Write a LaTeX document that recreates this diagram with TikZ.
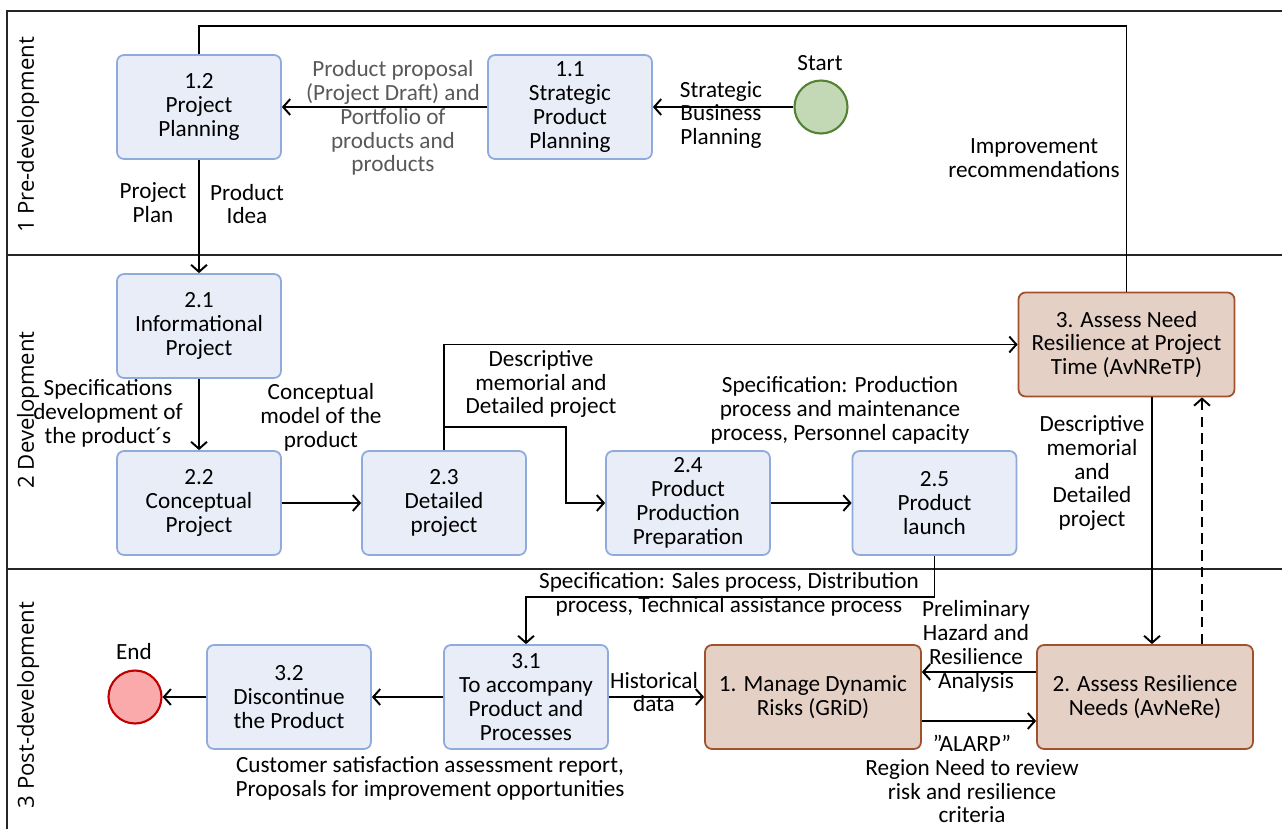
\documentclass[tikz,border=0pt]{standalone}
\usepackage{fontspec}
\setmainfont{Carlito}
\newfontfamily\lanefont{Open Sans}
\usepackage{xcolor}
\definecolor{procfill}{RGB}{233,237,248}
\definecolor{procdraw}{RGB}{143,170,220}
\definecolor{riskfill}{RGB}{229,208,198}
\definecolor{riskdraw}{RGB}{160,82,45}
\definecolor{startfill}{RGB}{195,217,181}
\definecolor{startdraw}{RGB}{84,130,53}
\definecolor{endfill}{RGB}{250,170,170}
\definecolor{enddraw}{RGB}{192,0,0}
\definecolor{greytext}{RGB}{89,89,89}
\usepackage{tikz}
\usetikzlibrary{arrows.meta, positioning}

\begin{document}
\begin{tikzpicture}[
  x=0.02cm, y=-0.02cm,
  font=\fontsize{13.2}{13.6}\selectfont,
  proc/.style ={rectangle, rounded corners=4pt, draw=procdraw,
                line width=1pt, fill=procfill,
                minimum width=3.28cm, minimum height=2.08cm,
                inner sep=2pt, align=center},
  risk/.style ={proc, draw=riskdraw, fill=riskfill,
                minimum width=4.32cm},
  startev/.style={circle, draw=startdraw, fill=startfill,
                line width=1.2pt, minimum size=1.06cm, inner sep=0pt},
  endev/.style ={startev, draw=enddraw, fill=endfill},
  lbl/.style   ={align=center, inner sep=1pt},
  lane/.style  ={font=\lanefont\fontsize{12.6}{13.6}\selectfont,
                rotate=90},
  pool/.style  ={line width=1.3pt, draw=black!85},
  flow/.style  ={line width=1.1pt,
                 -{Straight Barb[length=4pt, width=9pt, line width=1.1pt]}},
  link/.style  ={line width=1.1pt},
]
\useasboundingbox (0,0) rectangle (1282,829);

%% --- pool and lanes ---
\draw[pool] (1282,11) -- (7,11) -- (7,829);
\draw[pool] (7,255) -- (1282,255);
\draw[pool] (7,569) -- (1282,569);
\node[lane] (l1) at (28,135) {1 Pre-development};
\node[lane] (l2) at (28,410) {2 Development};
\node[lane] (l3) at (28,705) {3 Post-development};

%% --- pre-development ---
\node[startev] (start) at (821,107) {};
\node[lbl] (starttxt) at (820,63) {Start};
\node[proc] (p11) at (570,107) {1.1\\Strategic\\Product\\Planning};
\node[proc] (p12) at (199,107) {1.2\\Project\\Planning};

%% --- development ---
\node[proc] (p21) at (199,326) {2.1\\Informational\\Project};
\node[proc] (p22) at (199,503) {2.2\\Conceptual\\Project};
\node[proc] (p23) at (444,503) {2.3\\Detailed\\project};
\node[proc] (p24) at (688,503) {2.4\\Product\\Production\\Preparation};
\node[proc] (p25) at (934.5,503) {2.5\\Product\\launch};
\node[risk] (a3) at (1126.5,344.5) {3. Assess Need\\Resilience at Project\\Time (AvNReTP)};

%% --- post-development ---
\node[endev] (endev) at (135,697) {};
\node[lbl] (endtxt) at (134,652) {End};
\node[proc] (p32) at (289,697) {3.2\\Discontinue\\the Product};
\node[proc] (p31) at (526,697) {3.1\\To accompany\\Product and\\Processes};
\node[risk] (m1) at (813,697) {1. Manage Dynamic\\Risks (GRiD)};
\node[risk] (a2) at (1145,697) {2. Assess Resilience\\Needs (AvNeRe)};

%% --- helper points ---
\coordinate (fbk) at (199,26);
\coordinate (br)  at (443,427);
\coordinate (br2) at (566,503);
\coordinate (dn)  at (1152,0);
\coordinate (up)  at (1202,0);
\coordinate (sales) at (934.5,597);
\coordinate (prel) at (0,672);
\coordinate (alarp) at (0,721);

%% --- connectors ---
\draw[flow] (start) -- (p11);
\draw[flow] (p11) -- (p12);
\draw[flow] (p12) -- (p21);
\draw[link] (a3.north) |- (fbk) -- (p12.north);
\draw[flow] (p21) -- (p22);
\draw[flow] (p22) -- (p23);
\draw[flow] (p23.north) |- (a3.west);
\draw[flow] (br) -| (br2) -- (p24.west);
\draw[flow] (p24) -- (p25);
\draw[flow] (a3.south -| dn) -- (a2.north -| dn);
\draw[flow, dash pattern=on 6pt off 3.5pt] (a2.north -| up) -- (a3.south -| up);
\draw[flow] (p25.south) -- (sales) -| (p31.north);
\draw[flow] (p31) -- (p32);
\draw[flow] (p32) -- (endev);
\draw[flow] (p31) -- (m1);
\draw[flow] (a2.west |- prel) -- (m1.east |- prel);
\draw[flow] (m1.east |- alarp) -- (a2.west |- alarp);

%% --- labels ---
\node[lbl] (t1) at (721,115) {Strategic\\Business\\Planning};
\node[lbl, text=greytext] (t2) at (393,118)
  {Product proposal\\(Project Draft) and\\Portfolio of\\products and\\products};
\node[lbl] (t3) at (153,203) {Project\\Plan};
\node[lbl] (t4) at (247,204) {Product\\Idea};
\node[lbl] (t5) at (1034,158) {Improvement\\recommendations};
\node[lbl] (t6) at (108,413) {Specifications\\development of\\the product´s};
\node[lbl] (t7) at (321,417) {Conceptual\\model of the\\product};
\node[lbl] (t8) at (541,384) {Descriptive\\memorial and\\Detailed project};
\node[lbl] (t9) at (840,410)
  {Specification: Production\\process and maintenance\\process, Personnel capacity};
\node[lbl] (t10) at (1092,473) {Descriptive\\memorial\\and\\Detailed\\project};
\node[lbl] (t11) at (729,594)
  {Specification: Sales process, Distribution\\process, Technical assistance process};
\node[lbl] (t12) at (654,692) {Historical\\data};
\node[lbl] (t13) at (976,646) {Preliminary\\Hazard and\\Resilience\\Analysis};
\node[lbl] (t14) at (972,779)
  {\symbol{34}ALARP\symbol{34}\\Region Need to review\\risk and resilience\\criteria};
\node[lbl] (t15) at (430,778)
  {Customer satisfaction assessment report,\\Proposals for improvement opportunities};
\end{tikzpicture}
\end{document}
